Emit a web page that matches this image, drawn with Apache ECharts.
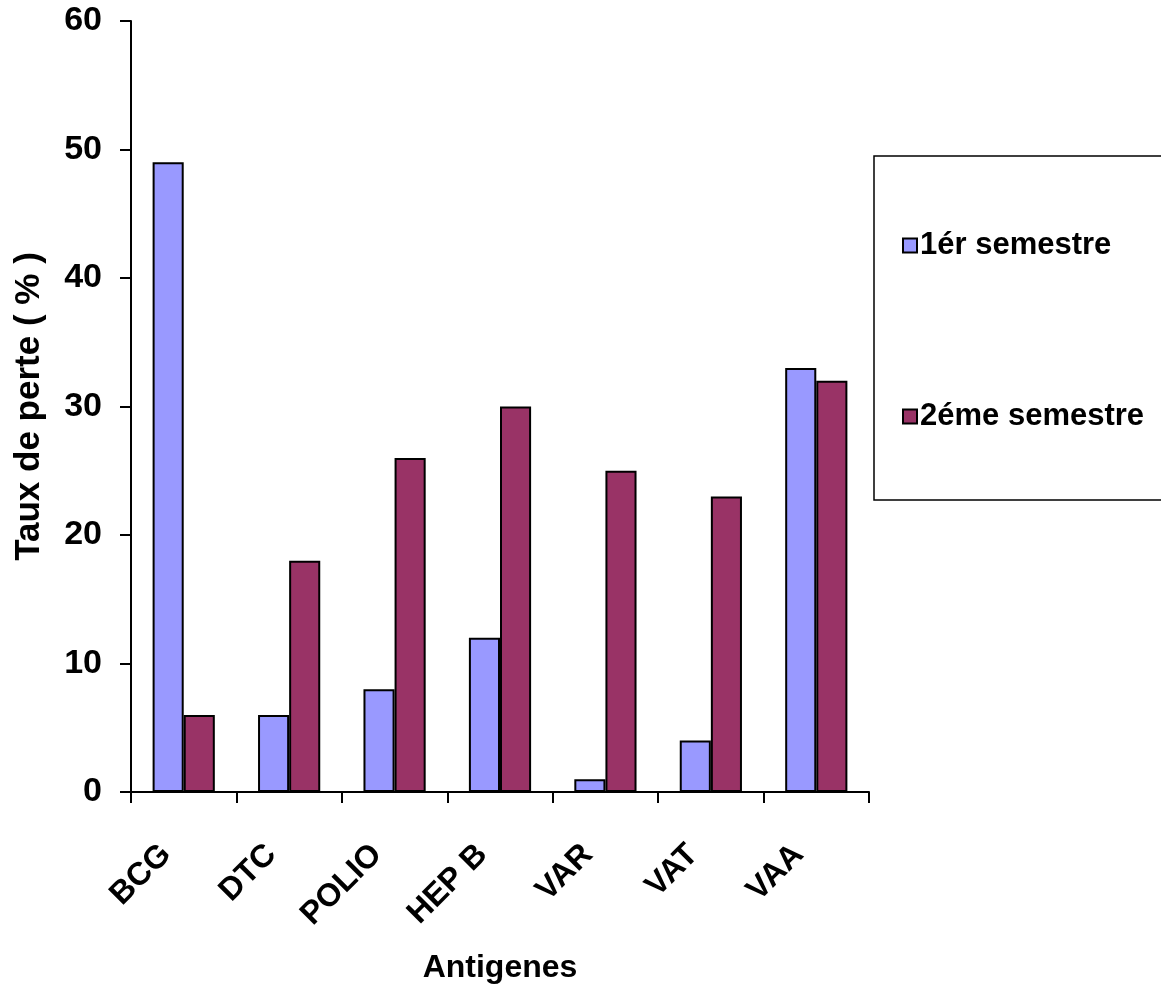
<!DOCTYPE html>
<html>
<head>
<meta charset="utf-8">
<script src="https://cdn.jsdelivr.net/npm/echarts@6/dist/echarts.min.js"></script>
<style>
html,body{margin:0;padding:0;background:#fff;}
#main{width:1161px;height:989px;}
</style>
</head>
<body>
<div id="main"></div>
<script>
const categories = ['BCG', 'DTC', 'POLIO', 'HEP B', 'VAR', 'VAT', 'VAA'];
const sem1 = [49, 6, 8, 12, 1, 4, 33];
const sem2 = [6, 18, 26, 30, 25, 23, 32];
const seriesNames = ['1ér semestre', '2éme semestre'];
const yTicks = [0, 10, 20, 30, 40, 50, 60];

const FONT = '"Liberation Sans", Arial, sans-serif';
const chart = echarts.init(document.getElementById('main'));
chart.setOption({
  animation: false,
  backgroundColor: '#fff',
  textStyle: { fontFamily: FONT },
  grid: { left: 131, right: 292, top: 21, bottom: 196, containLabel: false },
  legend: {
    orient: 'vertical',
    left: 874, top: 156,
    padding: [74, 40, 68, 28],
    itemGap: 140,
    itemWidth: 14, itemHeight: 14,
    borderColor: '#000', borderWidth: 1.5,
    icon: 'rect',
    textStyle: { fontFamily: FONT, fontWeight: 'bold', fontSize: 31, color: '#000', padding: [0, 0, 0, -2] },
    data: seriesNames
  },
  xAxis: {
    type: 'category',
    data: categories,
    name: 'Antigenes',
    nameLocation: 'middle',
    nameGap: 160,
    nameTextStyle: { fontFamily: FONT, fontWeight: 'bold', fontSize: 32, color: '#000' },
    axisLine: { lineStyle: { color: '#000', width: 2 } },
    axisTick: { show: true, length: 11, lineStyle: { color: '#000', width: 2 } },
    axisLabel: {
      rotate: 45, interval: 0, margin: 40,
      fontFamily: FONT, fontWeight: 'bold', fontSize: 32, color: '#000',
      padding: [0, 25, 0, 0]
    }
  },
  yAxis: {
    type: 'value',
    min: 0, max: 60, interval: 10,
    name: 'Taux de perte ( % )',
    nameLocation: 'middle',
    nameGap: 84,
    nameTextStyle: { fontFamily: FONT, fontWeight: 'bold', fontSize: 35, color: '#000' },
    axisLine: { show: true, lineStyle: { color: '#000', width: 2 } },
    axisTick: { show: true, length: 11, lineStyle: { color: '#000', width: 2 } },
    splitLine: { show: false },
    axisLabel: {
      margin: 29,
      fontFamily: FONT, fontWeight: 'bold', fontSize: 34, color: '#000',
      formatter: v => yTicks.includes(v) ? String(v) : ''
    }
  },
  series: [
    {
      name: seriesNames[0], type: 'bar', data: sem1,
      barGap: '0%', barCategoryGap: '41%',
      itemStyle: { color: '#9999FF', borderColor: '#000', borderWidth: 2 }
    },
    {
      name: seriesNames[1], type: 'bar', data: sem2,
      barGap: '0%', barCategoryGap: '41%',
      itemStyle: { color: '#993366', borderColor: '#000', borderWidth: 2 }
    }
  ]
});
</script>
</body>
</html>
